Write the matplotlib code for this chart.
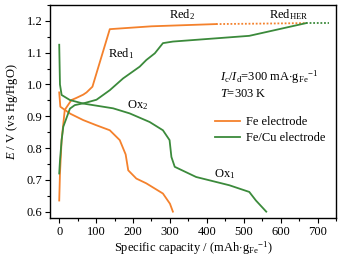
import numpy as np
import matplotlib
matplotlib.use('Agg')
import matplotlib.pyplot as plt
from matplotlib.ticker import MultipleLocator

plt.rcParams['font.family'] = 'Liberation Serif'
plt.rcParams['mathtext.fontset'] = 'custom'
plt.rcParams['mathtext.rm'] = 'Liberation Serif'
plt.rcParams['mathtext.it'] = 'Liberation Serif:italic'

orange = '#f4812c'
green = '#3b8a3b'

# Fe electrode
fe_chg_x = [0, 2, 6.5, 15, 33, 47, 65, 74, 90, 110, 137, 250, 425]
fe_chg_y = [0.635, 0.72, 0.825, 0.92, 0.951, 0.958, 0.968, 0.975, 0.993, 1.07, 1.174, 1.183, 1.19]
fe_her_x = [425, 669]
fe_her_y = [1.19, 1.193]
fe_dis_x = [0, 1, 3, 30, 65, 100, 137, 164, 180, 187, 209, 236, 281, 300, 308]
fe_dis_y = [0.975, 0.96, 0.93, 0.908, 0.888, 0.872, 0.856, 0.825, 0.78, 0.73, 0.704, 0.689, 0.657, 0.625, 0.60]

# Fe/Cu electrode
cu_chg_x = [0, 2, 6.5, 11, 29, 42, 70, 101, 137, 173, 218, 236, 259, 281, 308, 515, 669]
cu_chg_y = [0.72, 0.76, 0.825, 0.867, 0.924, 0.935, 0.942, 0.952, 0.982, 1.019, 1.056, 1.077, 1.098, 1.13, 1.135, 1.153, 1.193]
cu_her_x = [669, 731]
cu_her_y = [1.193, 1.193]
cu_dis_x = [0, 2, 6.5, 29, 65, 146, 191, 245, 281, 299, 304, 313, 371, 461, 515, 533, 561]
cu_dis_y = [1.125, 1.0, 0.967, 0.951, 0.94, 0.925, 0.909, 0.882, 0.856, 0.825, 0.772, 0.741, 0.709, 0.683, 0.662, 0.635, 0.60]

fig = plt.figure(figsize=(3.46, 2.57), dpi=100)
ax = fig.add_axes([50/346, 1-218/257, 286/346, 213/257])

ax.plot(fe_chg_x, fe_chg_y, color=orange, lw=1.3, label='Fe electrode')
ax.plot(fe_dis_x, fe_dis_y, color=orange, lw=1.3)
ax.plot(fe_her_x, fe_her_y, color=orange, lw=1.3, ls=(0, (1, 1)))
ax.plot(cu_chg_x, cu_chg_y, color=green, lw=1.3, label='Fe/Cu electrode')
ax.plot(cu_dis_x, cu_dis_y, color=green, lw=1.3)
ax.plot(cu_her_x, cu_her_y, color=green, lw=1.3, ls=(0, (1, 1)))

ax.set_xlim(-25, 750)
ax.set_ylim(0.58, 1.25)
ax.xaxis.set_major_locator(MultipleLocator(100))
ax.xaxis.set_minor_locator(MultipleLocator(50))
ax.yaxis.set_major_locator(MultipleLocator(0.1))
ax.yaxis.set_minor_locator(MultipleLocator(0.05))
ax.tick_params(which='major', length=3.5, width=0.8, labelsize=9, pad=2)
ax.tick_params(which='minor', length=2, width=0.8)
for s in ax.spines.values():
    s.set_linewidth(1.0)

ax.set_xlabel(r'Specific capacity / (mAh$\cdot$g$_{\mathrm{Fe}}$$^{-1}$)', fontsize=9, labelpad=1)
ax.set_ylabel(r'$E$ / V (vs Hg/HgO)', fontsize=9, labelpad=5)

fs = 9
ax.text(167, 1.098, r'Red$_1$', fontsize=fs, ha='center', va='center')
ax.text(332, 1.221, r'Red$_2$', fontsize=fs, ha='center', va='center')
ax.text(623, 1.221, r'Red$_{\mathrm{HER}}$', fontsize=fs, ha='center', va='center')
ax.text(213, 0.936, r'Ox$_2$', fontsize=fs, ha='center', va='center')
ax.text(448, 0.718, r'Ox$_1$', fontsize=fs, ha='center', va='center')
ax.text(437, 1.023, r'$I_\mathrm{c}/I_\mathrm{d}$=300 mA$\cdot$g$_{\mathrm{Fe}}$$^{-1}$', fontsize=fs, ha='left', va='center')
ax.text(437, 0.970, r'$T$=303 K', fontsize=fs, ha='left', va='center')

ax.legend(loc='upper left', bbox_to_anchor=(0.56, 0.50), frameon=False, fontsize=fs,
          handlelength=2.0, handletextpad=0.5, labelspacing=0.3, borderaxespad=0)

fig.savefig('out.png', dpi=100)
